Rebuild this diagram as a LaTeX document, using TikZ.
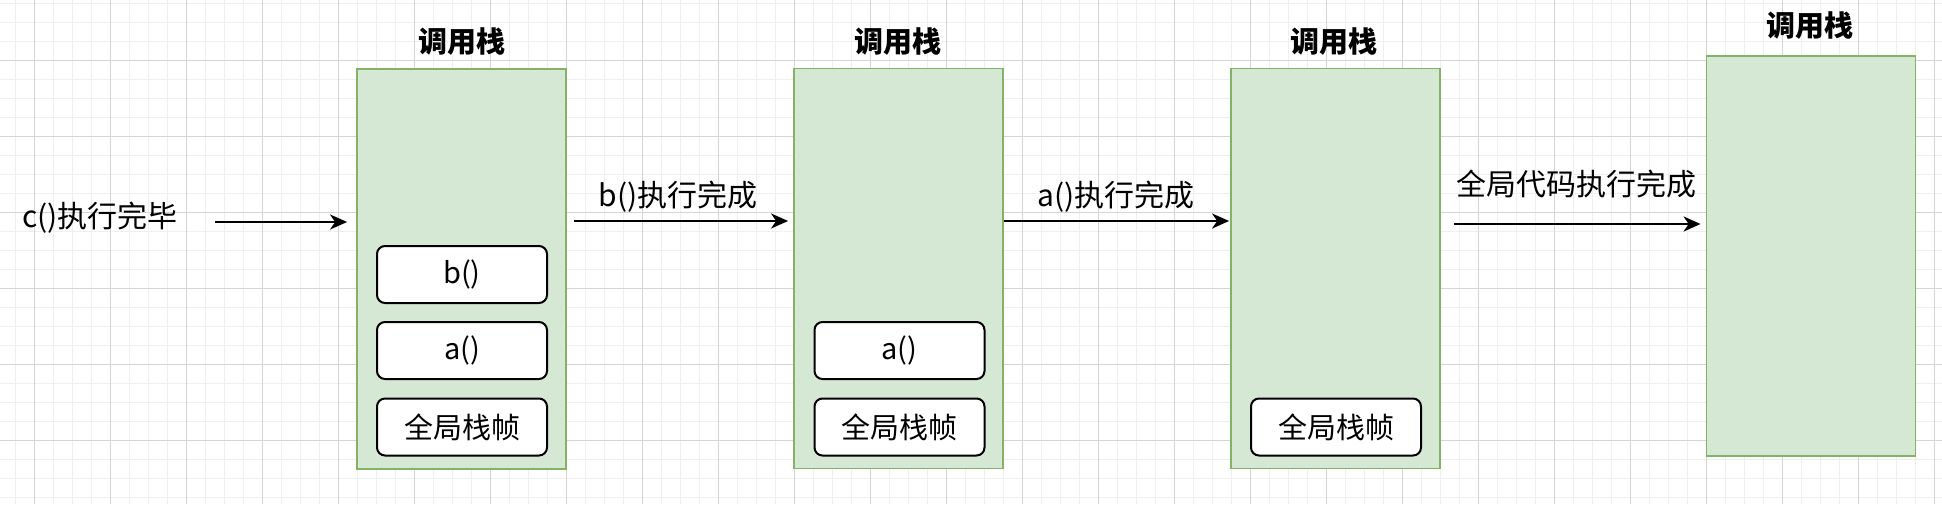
\documentclass[tikz,border=0pt]{standalone}
\usepackage{fontspec}
\setmainfont{Noto Sans CJK SC}
\usetikzlibrary{arrows.meta}
\definecolor{gridmajor}{HTML}{D4D4D4}
\definecolor{gridminor}{HTML}{EFEFEF}
\definecolor{stackfill}{HTML}{D5E8D4}
\definecolor{stackdraw}{HTML}{82B366}
\tikzset{
  stackbox/.style={draw=stackdraw, fill=stackfill, line width=1.8pt, minimum width=209pt, minimum height=400pt, inner sep=0pt},
  framebox/.style={draw=black, fill=white, line width=2pt, rounded corners=8pt, minimum width=170pt, minimum height=57pt, inner sep=0pt, font=\fontsize{29pt}{34pt}\selectfont},
  titletext/.style={font=\fontsize{29pt}{34pt}\selectfont\bfseries, inner sep=0pt},
  labeltext/.style={font=\fontsize{30pt}{36pt}\selectfont, inner sep=0pt},
  arr/.style={draw=black, line width=2pt, -{Stealth[length=17pt,width=15pt,inset=5pt]}}
}
\begin{document}
\begin{tikzpicture}[x=1pt,y=-1pt]
\useasboundingbox (0,0) rectangle (1942,504);
\clip (0,0) rectangle (1942,504);
\fill[white] (0,0) rectangle (1942,504);
% grid
\foreach \i in {0,...,101} {
  \draw[gridminor, line width=1pt] ({15.3+19*\i},0) -- ({15.3+19*\i},504);
}
\foreach \j in {0,...,26} {
  \draw[gridminor, line width=1pt] (0,{3.3+19*\j}) -- (1942,{3.3+19*\j});
}
\foreach \i in {0,...,25} {
  \draw[gridmajor, line width=1pt] ({34.3+76*\i},0) -- ({34.3+76*\i},504);
}
\foreach \j in {0,...,5} {
  \draw[gridmajor, line width=1pt] (0,{60.3+76*\j}) -- (1942,{60.3+76*\j});
}
% stacks
\node[stackbox] (stack1) at (461.5,269) {};
\node[stackbox] (stack2) at (898.5,268.5) {};
\node[stackbox] (stack3) at (1335.5,268.5) {};
\node[stackbox] (stack4) at (1811,256) {};
% titles
\node[titletext] (title1) at (461.5,42) {调用栈};
\node[titletext] (title2) at (898,42) {调用栈};
\node[titletext] (title3) at (1334,42) {调用栈};
\node[titletext] (title4) at (1810,26) {调用栈};
% frames
\node[framebox] (s1b) at (462,274.5) {b()};
\node[framebox] (s1a) at (462,350.5) {a()};
\node[framebox] (s1g) at (462,427) {全局栈帧};
\node[framebox] (s2a) at (899.5,350.5) {a()};
\node[framebox] (s2g) at (899.5,427) {全局栈帧};
\node[framebox] (s3g) at (1336,427) {全局栈帧};
% labels
\node[labeltext] (lc) at (100,218) {c()执行完毕};
\node[labeltext] (lb) at (678,197) {b()执行完成};
\node[labeltext] (la) at (1116,197) {a()执行完成};
\node[labeltext] (lg) at (1576,184) {全局代码执行完成};
% arrows
\coordinate (c0) at (215,222);
\coordinate (r1) at (0,221);
\coordinate (r2) at (0,221);
\coordinate (r3) at (0,224);
\draw[arr, shorten >=9pt] (c0) -- (stack1.west |- c0);
\draw[arr, shorten <=7pt, shorten >=5pt] (stack1.east |- r1) -- (stack2.west |- r1);
\draw[arr, shorten >=1pt] (stack2.east |- r2) -- (stack3.west |- r2);
\draw[arr, shorten <=13pt, shorten >=5pt] (stack3.east |- r3) -- (stack4.west |- r3);
\end{tikzpicture}
\end{document}
